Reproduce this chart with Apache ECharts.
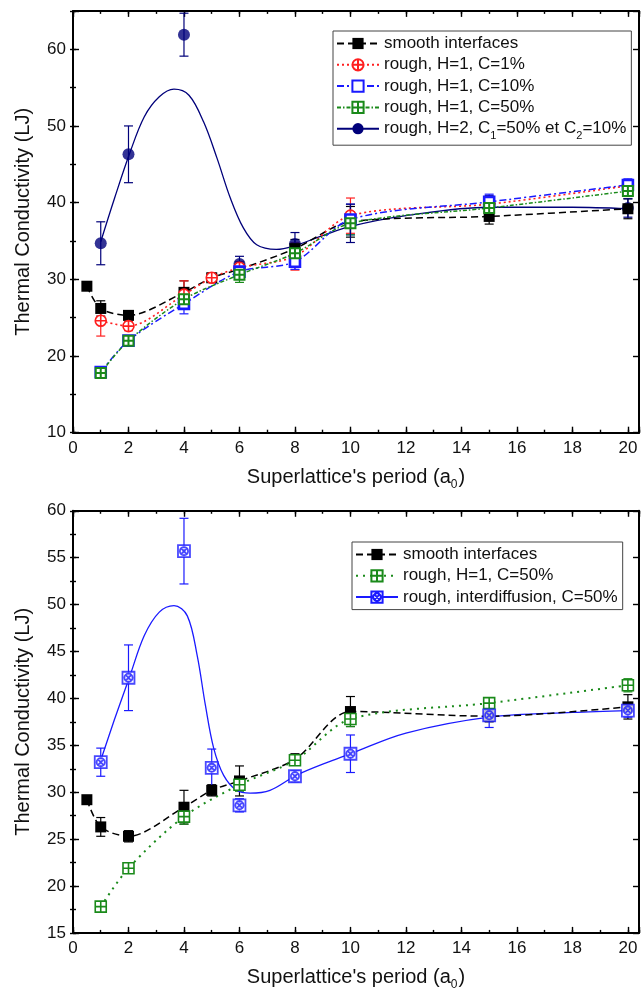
<!DOCTYPE html>
<html><head><meta charset="utf-8">
<script src="https://cdn.jsdelivr.net/npm/echarts@6/dist/echarts.min.js"></script>
<style>html,body{margin:0;padding:0;background:#fff}#c{width:642px;height:995px}</style>
</head><body><div id="c"></div><script>
const FONT = '"Liberation Sans", Arial, Helvetica, sans-serif';

// ---------- Top panel data ----------
const xSmoothA = [0.5, 1, 2, 4, 5, 6, 8, 10, 15, 20];
const ySmoothA = [29.1, 26.2, 25.3, 28.3, 30.2, 31.3, 34.0, 37.5, 38.2, 39.2];
const eSmoothA = [0, 1.0, 0.5, 1.5, 0.5, 1.0, 1.2, 2.0, 1.0, 1.3];

const xC1 = [1, 2, 4, 5, 6, 8, 10, 15, 20];
const yC1 = [24.6, 23.9, 28.0, 30.2, 31.5, 33.0, 38.3, 39.8, 42.2];
const eC1 = [2.0, 0.6, 1.8, 0.6, 0.8, 1.8, 2.3, 1.0, 0.6];

const xRough = [1, 2, 4, 6, 8, 10, 15, 20];
const yC10 = [17.9, 22.0, 26.8, 31.0, 32.3, 37.8, 40.1, 42.3];
const eC10 = [0.5, 0.5, 1.3, 0.8, 1.0, 2.0, 1.0, 0.8];
const yC50A = [17.8, 22.0, 27.4, 30.6, 33.4, 37.3, 39.3, 41.5];
const eC50A = [0.5, 0.5, 1.0, 1.0, 1.3, 1.5, 0.8, 0.7];
const yH2 = [34.7, 46.3, 61.9, 32.0, 34.6, 37.3, 39.7, 39.3];
const eH2 = [2.8, 3.7, 2.8, 1.0, 1.5, 2.5, 1.2, 1.2];

// fitted curve of H=2 series
const xFitH2 = [1.0, 1.5, 2.04, 2.57, 3.11, 3.64, 4.18, 4.71, 5.19, 5.67, 6.14, 6.62, 7.33, 7.93, 9, 10, 12, 15, 18, 20];
const yFitH2 = [34.9, 40.6, 46.4, 51.2, 53.8, 54.8, 54.0, 50.5, 45.8, 40.6, 36.7, 34.5, 33.9, 34.3, 35.7, 36.9, 38.3, 39.4, 39.4, 39.2];

// ---------- Bottom panel data ----------
const xSmoothB = [0.5, 1, 2, 4, 5, 6, 8, 10, 15, 20];
const ySmoothB = [29.2, 26.3, 25.3, 28.4, 30.2, 31.2, 33.5, 38.6, 38.1, 39.1];
const eSmoothB = [0, 1.0, 0.6, 1.8, 0.6, 1.6, 0.6, 1.6, 0.6, 1.3];

const xC50B = [1, 2, 4, 6, 8, 10, 15, 20];
const yC50B = [17.8, 21.9, 27.4, 30.8, 33.4, 37.8, 39.5, 41.4];
const eC50B = [0, 0, 0.8, 0.7, 0.5, 0.8, 0.4, 0.7];

const xInter = [1, 2, 4, 5, 6, 8, 10, 15, 20];
const yInter = [33.2, 42.2, 55.7, 32.6, 28.6, 31.7, 34.1, 38.2, 38.7];
const eInter = [1.5, 3.5, 3.5, 2.0, 0.7, 0.6, 2.0, 1.3, 0.7];

const xFitInter = [1.0, 1.5, 2.04, 2.57, 3.11, 3.64, 4.12, 4.48, 4.77, 5.07, 5.43, 5.9, 6.38, 7.1, 8.05, 9.36, 10, 12, 15, 18, 20];
const yFitInter = [33.4, 37.8, 42.3, 46.7, 49.2, 49.9, 48.8, 44.5, 39.3, 34.7, 31.8, 30.2, 29.9, 30.2, 31.8, 33.4, 34.1, 36.3, 38.0, 38.5, 38.7];

// axis ranges
const xRange = [0, 20.4];
const yRangeA = [10, 65];
const yRangeB = [15, 60];

// ---------- symbols ----------
const SYM_CIRC_PLUS = 'path://M5,0A5,5,0,1,1,5,10A5,5,0,1,1,5,0ZM5,0L5,10M0,5L10,5';
const SYM_SQ = 'path://M0,0L10,0L10,10L0,10Z';
const SYM_SQ_PLUS = 'path://M0,0L10,0L10,10L0,10ZM5,0L5,10M0,5L10,5';
const SYM_SQ_X = 'path://M0,0L10,0L10,10L0,10ZM5,1.6A3.4,3.4,0,1,1,5,8.4A3.4,3.4,0,1,1,5,1.6ZM2.6,2.6L7.4,7.4M7.4,2.6L2.6,7.4';

const C_BLACK = '#000000', C_RED = '#ff1f1f', C_BLUE = '#1a1aff', C_GREEN = '#1a8a1a', C_NAVY = '#00007a';

function pairs(xs, ys) { return xs.map((x, i) => [x, ys[i]]); }

function axesFor(g, yr, yMajor, yMinor) {
  const tickStyle = {color: '#000', width: 1.4};
  const lineSt = {color: '#000', width: 2};
  const xb = {gridIndex: g, type: 'value', min: xRange[0], max: xRange[1], splitLine: {show: false}};
  const yb = {gridIndex: g, type: 'value', min: yr[0], max: yr[1], splitLine: {show: false}};
  const xAxes = [
    Object.assign({}, xb, {position: 'bottom', interval: 2,
      axisLine: {show: true, onZero: false, lineStyle: lineSt},
      axisTick: {inside: true, length: 6, lineStyle: tickStyle},
      axisLabel: {color: '#111', fontSize: 17, fontFamily: FONT, margin: 7,
        formatter: v => (Math.abs(v % 2) < 1e-9 && v <= 20) ? String(v) : ''},
      name: "Superlattice's period (a{s|0})", nameLocation: 'middle', nameGap: 35,
      nameTextStyle: {color: '#111', fontSize: 20, fontFamily: FONT,
        rich: {s: {fontSize: 12, fontFamily: FONT, color: '#111', verticalAlign: 'bottom', padding: [0, 1, -3, 0]}}}}),
    Object.assign({}, xb, {position: 'bottom', interval: 1, axisLine: {show: false},
      axisTick: {inside: true, length: 3, lineStyle: tickStyle}, axisLabel: {show: false}}),
    Object.assign({}, xb, {position: 'top', interval: 2,
      axisLine: {show: true, onZero: false, lineStyle: lineSt},
      axisTick: {inside: true, length: 6, lineStyle: tickStyle}, axisLabel: {show: false}}),
    Object.assign({}, xb, {position: 'top', interval: 1, axisLine: {show: false},
      axisTick: {inside: true, length: 3, lineStyle: tickStyle}, axisLabel: {show: false}})
  ];
  const yAxes = [
    Object.assign({}, yb, {position: 'left', interval: yMajor,
      axisLine: {show: true, onZero: false, lineStyle: lineSt},
      axisTick: {inside: true, length: 6, lineStyle: tickStyle},
      axisLabel: {color: '#111', fontSize: 17, fontFamily: FONT, margin: 7,
        formatter: v => (Math.abs((v - yr[0]) % yMajor) < 1e-9) ? String(v) : ''},
      name: 'Thermal Conductivity (LJ)', nameLocation: 'middle', nameGap: 40,
      nameTextStyle: {color: '#111', fontSize: 20, fontFamily: FONT}}),
    Object.assign({}, yb, {position: 'left', interval: yMinor, axisLine: {show: false},
      axisTick: {inside: true, length: 3, lineStyle: tickStyle}, axisLabel: {show: false}}),
    Object.assign({}, yb, {position: 'right', interval: yMajor,
      axisLine: {show: true, onZero: false, lineStyle: lineSt},
      axisTick: {inside: true, length: 6, lineStyle: tickStyle}, axisLabel: {show: false}}),
    Object.assign({}, yb, {position: 'right', interval: yMinor, axisLine: {show: false},
      axisTick: {inside: true, length: 3, lineStyle: tickStyle}, axisLabel: {show: false}})
  ];
  return {xAxes, yAxes};
}

function errBars(xs, ys, es, color, g) {
  const data = [];
  xs.forEach((x, i) => { if (es[i] > 0) data.push([x, ys[i] - es[i], ys[i] + es[i]]); });
  return {
    type: 'custom', xAxisIndex: g * 4, yAxisIndex: g * 4, data: data, encode: {x: 0, y: [1, 2]},
    z: 1, silent: true,
    renderItem: (p, api) => {
      const x = api.value(0);
      const lo = api.coord([x, api.value(1)]);
      const hi = api.coord([x, api.value(2)]);
      const w = 4.5;
      const st = {stroke: color, lineWidth: 1.2};
      return {type: 'group', children: [
        {type: 'line', shape: {x1: lo[0], y1: lo[1], x2: hi[0], y2: hi[1]}, style: st},
        {type: 'line', shape: {x1: lo[0] - w, y1: lo[1], x2: lo[0] + w, y2: lo[1]}, style: st},
        {type: 'line', shape: {x1: hi[0] - w, y1: hi[1], x2: hi[0] + w, y2: hi[1]}, style: st}
      ]};
    }
  };
}

function lineSer(name, xs, ys, g, color, dash, width, sym, size, fill, bw) {
  return {
    type: 'line', name: name, xAxisIndex: g * 4, yAxisIndex: g * 4, data: pairs(xs, ys),
    smooth: 0.3, symbol: sym, symbolSize: size, showSymbol: true, showAllSymbol: true, z: 3,
    itemStyle: {color: fill, borderColor: color, borderWidth: bw},
    lineStyle: {color: color, width: width, type: dash},
    emphasis: {disabled: true}, animation: false
  };
}

const A = axesFor(0, yRangeA, 10, 5);
const B = axesFor(1, yRangeB, 5, 2.5);

const NAME_SMOOTH = 'smooth interfaces';
const NAME_C1 = 'rough, H=1, C=1%';
const NAME_C10 = 'rough, H=1, C=10%';
const NAME_C50 = 'rough, H=1, C=50%';
const NAME_H2 = 'rough, H=2, C1=50% et C2=10%';
const NAME_SMOOTH_B = 'smooth interfaces ';
const NAME_C50_B = 'rough, H=1, C=50% ';
const NAME_INTER = 'rough, interdiffusion, C=50%';

const series = [
  errBars(xSmoothA, ySmoothA, eSmoothA, C_BLACK, 0),
  errBars(xC1, yC1, eC1, C_RED, 0),
  errBars(xRough, yC10, eC10, C_BLUE, 0),
  errBars(xRough, yC50A, eC50A, C_GREEN, 0),
  errBars(xRough, yH2, eH2, C_NAVY, 0),
  {type: 'line', name: NAME_H2, xAxisIndex: 0, yAxisIndex: 0, data: pairs(xFitH2, yFitH2),
   smooth: 0.35, symbol: 'circle', symbolSize: 12, showSymbol: false, z: 2,
   itemStyle: {color: C_NAVY}, lineStyle: {color: C_NAVY, width: 1.3, type: 'solid'}, animation: false},
  {type: 'scatter', name: NAME_H2, xAxisIndex: 0, yAxisIndex: 0, data: pairs(xRough, yH2),
   symbol: 'circle', symbolSize: 12, z: 3, itemStyle: {color: C_NAVY}, animation: false},
  lineSer(NAME_SMOOTH, xSmoothA, ySmoothA, 0, C_BLACK, [7, 4], 1.5, 'rect', 11, C_BLACK, 0),
  lineSer(NAME_C1, xC1, yC1, 0, C_RED, [2, 3], 1.6, SYM_CIRC_PLUS, 11, '#ffffff', 1.6),
  lineSer(NAME_C10, xRough, yC10, 0, C_BLUE, [7, 3, 2, 3], 1.5, SYM_SQ, 10, '#ffffff', 2.6),
  lineSer(NAME_C50, xRough, yC50A, 0, C_GREEN, [4, 2, 1.5, 2], 1.5, SYM_SQ_PLUS, 10, '#ffffff', 2),
  errBars(xSmoothB, ySmoothB, eSmoothB, C_BLACK, 1),
  errBars(xC50B, yC50B, eC50B, C_GREEN, 1),
  errBars(xInter, yInter, eInter, C_BLUE, 1),
  lineSer(NAME_SMOOTH_B, xSmoothB, ySmoothB, 1, C_BLACK, [7, 4], 1.5, 'rect', 11, C_BLACK, 0),
  lineSer(NAME_C50_B, xC50B, yC50B, 1, C_GREEN, [2, 5], 2, SYM_SQ_PLUS, 11, '#ffffff', 1.6),
  {type: 'line', name: NAME_INTER, xAxisIndex: 4, yAxisIndex: 4, data: pairs(xFitInter, yFitInter),
   smooth: 0.35, symbol: SYM_SQ_X, symbolSize: 12, showSymbol: false, z: 2,
   itemStyle: {color: '#ffffff', borderColor: C_BLUE, borderWidth: 1.8},
   lineStyle: {color: C_BLUE, width: 1.3, type: 'solid'}, animation: false},
  {type: 'scatter', name: NAME_INTER, xAxisIndex: 4, yAxisIndex: 4, data: pairs(xInter, yInter),
   symbol: SYM_SQ_X, symbolSize: 12, z: 3,
   itemStyle: {color: '#ffffff', borderColor: C_BLUE, borderWidth: 1.8}, animation: false}
];

const legendCommon = {
  orient: 'vertical', itemWidth: 42, itemHeight: 14, itemGap: 4.3,
  borderColor: '#444', borderWidth: 1, backgroundColor: '#fff', padding: [4, 5, 4, 3],
  selectedMode: false,
  textStyle: {color: '#111', fontSize: 17, lineHeight: 17, fontFamily: FONT,
    rich: {s: {fontSize: 11, lineHeight: 17, fontFamily: FONT, color: '#111', verticalAlign: 'bottom', padding: [0, 0, -4, 0]}}},
  formatter: n => n.trim().replace('C1=', 'C{s|1}=').replace('C2=', 'C{s|2}=')
};

const option = {
  backgroundColor: '#ffffff',
  animation: false,
  grid: [
    {left: 73, top: 10.9, width: 571.2, height: 421.8},
    {left: 73, top: 510.8, width: 571.2, height: 422.1}
  ],
  xAxis: A.xAxes.concat(B.xAxes),
  yAxis: A.yAxes.concat(B.yAxes),
  legend: [
    Object.assign({}, legendCommon, {left: 333, top: 31, data: [NAME_SMOOTH, NAME_C1, NAME_C10, NAME_C50, NAME_H2]}),
    Object.assign({}, legendCommon, {left: 352, top: 542, data: [NAME_SMOOTH_B, NAME_C50_B, NAME_INTER]})
  ],
  series: series
};

const chart = echarts.init(document.getElementById('c'));
chart.setOption(option);
</script></body></html>
